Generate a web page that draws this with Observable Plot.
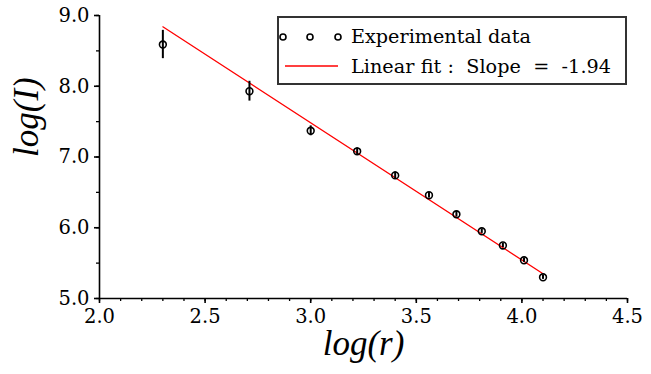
<!DOCTYPE html>
<html>
<head>
<meta charset="utf-8">
<script src="https://cdn.jsdelivr.net/npm/d3@7"></script>
<script src="https://cdn.jsdelivr.net/npm/@observablehq/plot@0.6"></script>
<style>
  html, body { margin: 0; padding: 0; background: #fff; }
  #chart svg { display: block; }
</style>
</head>
<body>
<div id="chart"></div>
<script>
// Data
const logR = [2.30, 2.71, 3.00, 3.22, 3.40, 3.56, 3.69, 3.81, 3.91, 4.01, 4.10];
const logI = [8.59, 7.93, 7.37, 7.08, 6.74, 6.46, 6.19, 5.95, 5.75, 5.54, 5.30];
const errI = [0.20, 0.14, 0.07, 0.05, 0.05, 0.04, 0.04, 0.03, 0.03, 0.03, 0.03];
const fitR = [2.30, 4.10];
const fitI = [8.84, 5.35];
const slope = -1.94;
const xTicks = [2.0, 2.5, 3.0, 3.5, 4.0, 4.5];
const yTicks = [5.0, 6.0, 7.0, 8.0, 9.0];
const xMinorTicks = d3.range(20, 46).map(d => d / 10);
const yMinorTicks = d3.range(10, 19).map(d => d / 2);
const legendLabels = ["Experimental data", `Linear fit :  Slope  =  ${slope}`];

const points = logR.map((r, i) => ({r, I: logI[i], e: errI[i]}));
const fit = fitR.map((r, i) => ({r, I: fitI[i]}));

const font = "'DejaVu Serif', 'Liberation Serif', serif";
const italicFont = "'Liberation Serif', serif";

const chart = Plot.plot({
  width: 651,
  height: 374,
  marginLeft: 99,
  marginRight: 24,
  marginTop: 15,
  marginBottom: 76,
  style: {fontFamily: font, fontSize: "19.5px", color: "#000", background: "#fff", fontWeight: "300"},
  x: {domain: [2, 4.5]},
  y: {domain: [5, 9]},
  marks: [
    Plot.axisX(xMinorTicks, {tickSize: 3, tickFormat: () => "", label: null, strokeWidth: 1.3, strokeOpacity: 1, stroke: "#000"}),
    Plot.axisX(xTicks, {tickSize: 5, tickPadding: 6, tickFormat: d => d.toFixed(1), label: null, strokeWidth: 1.6, strokeOpacity: 1, stroke: "#000"}),
    Plot.axisY(yMinorTicks, {tickSize: 3, tickFormat: () => "", label: null, strokeWidth: 1.3, strokeOpacity: 1, stroke: "#000"}),
    Plot.axisY(yTicks, {tickSize: 5, tickPadding: 5, tickFormat: d => d.toFixed(1), label: null, strokeWidth: 1.6, strokeOpacity: 1, stroke: "#000"}),
    Plot.ruleY([5], {stroke: "#000", strokeWidth: 1.6}),
    Plot.ruleX([2], {stroke: "#000", strokeWidth: 1.6}),
    Plot.line(fit, {x: "r", y: "I", stroke: "#ff0000", strokeWidth: 1.3}),
    Plot.ruleX(points, {x: "r", y1: d => d.I - d.e, y2: d => d.I + d.e, stroke: "#000", strokeWidth: 2}),
    Plot.dot(points, {x: "r", y: "I", r: 3.4, stroke: "#000", strokeWidth: 1.6, fill: "none"}),
    Plot.text(["log(r)"], {frameAnchor: "bottom", dy: 56, fontSize: 35, fontStyle: "italic", fontFamily: italicFont, fill: "#000"}),
    Plot.text(["log(I)"], {frameAnchor: "left", dx: -73, rotate: -90, fontSize: 35, fontStyle: "italic", fontFamily: italicFont, fill: "#000"})
  ]
});

document.getElementById("chart").appendChild(chart);

// Legend box drawn into the same SVG
const svg = d3.select(chart);
const lg = svg.append("g").attr("font-family", font).attr("font-size", 19.2)
  .attr("text-anchor", "start").attr("font-weight", 300);
lg.append("rect").attr("x", 278).attr("y", 17).attr("width", 348).attr("height", 67)
  .attr("fill", "#fff").attr("stroke", "#333").attr("stroke-width", 2);
lg.selectAll("circle.leg").data([283, 310, 338]).join("circle")
  .attr("class", "leg")
  .attr("cx", d => d).attr("cy", 37).attr("r", 3).attr("fill", "none")
  .attr("stroke", "#000").attr("stroke-width", 1.6);
lg.append("line").attr("x1", 285).attr("x2", 338).attr("y1", 66).attr("y2", 66)
  .attr("stroke", "#ff0000").attr("stroke-width", 1.3);
lg.append("text").attr("x", 351).attr("y", 43).attr("fill", "#000").text(legendLabels[0]);
lg.append("text").attr("x", 351).attr("y", 73).attr("fill", "#000")
  .attr("textLength", 260).attr("lengthAdjust", "spacing")
  .style("white-space", "pre").text(legendLabels[1]);
</script>
</body>
</html>
